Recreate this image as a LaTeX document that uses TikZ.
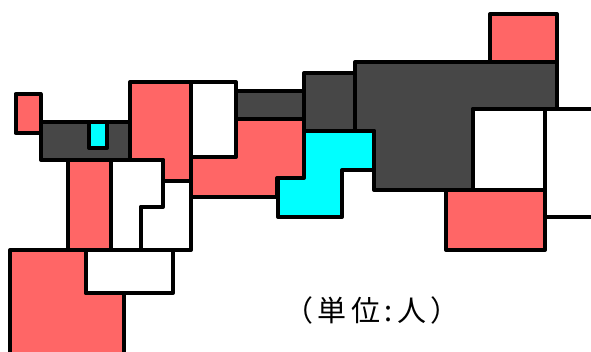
\documentclass[tikz,border=0pt]{standalone}
\usepackage{fontspec}
\newfontfamily\cjk[LetterSpace=15]{Noto Sans CJK JP}
\usepackage{tikz}
\definecolor{tilered}{HTML}{FF6666}
\definecolor{tiledark}{HTML}{474747}
\definecolor{tilecyan}{HTML}{00FFFF}
\tikzset{
  tile/.style={draw=black, line width=4pt, line join=round},
  redtile/.style={tile, fill=tilered},
  darktile/.style={tile, fill=tiledark},
  cyantile/.style={tile, fill=tilecyan},
  whitetile/.style={tile, fill=white}
}

\begin{document}
\begin{tikzpicture}[x=1pt,y=-1pt]
\useasboundingbox (0,0) rectangle (591,351);
\draw[darktile] (41,122) rectangle (130,160);
\draw[cyantile] (89,122) rectangle (107,148);
\draw[redtile] (15.5,94) rectangle (40.5,133);
\draw[redtile] (130,82)--(191,82)--(191,181)--(163,181)--(163,160)--(130,160)--cycle;
\draw[whitetile] (191,82) rectangle (236,157);
\draw[darktile] (236,91) rectangle (304,119);
\draw[redtile] (191,157)--(236,157)--(236,119)--(304,119)--(304,178)--(277,178)--(277,197)--(191,197)--cycle;
\draw[darktile] (304,73) rectangle (355,131);
\draw[darktile] (355,62)--(557,62)--(557,109)--(473,109)--(473,190)--(374,190)--(374,131)--(355,131)--cycle;
\draw[cyantile] (304,131)--(374,131)--(374,170)--(342,170)--(342,217)--(278,217)--(278,178)--(304,178)--cycle;
\draw[redtile] (490,14) rectangle (557,62);
\draw[whitetile] (473,109) rectangle (545,190);
\draw[whitetile] (545,109) rectangle (600,217);
\draw[redtile] (446,190) rectangle (545,250);
\draw[redtile] (68,160) rectangle (111,250);
\draw[whitetile] (111,160)--(163,160)--(163,207)--(141,207)--(141,250)--(111,250)--cycle;
\draw[whitetile] (163,181)--(191,181)--(191,250)--(141,250)--(141,207)--(163,207)--cycle;
\draw[redtile] (10,250)--(86,250)--(86,293)--(124,293)--(124,360)--(10,360)--cycle;
\draw[whitetile] (86,250) rectangle (173,293);
\node[font=\cjk\fontsize{29}{29}\selectfont] (unit) at (372,310) {（単位:人）};
\end{tikzpicture}
\end{document}
